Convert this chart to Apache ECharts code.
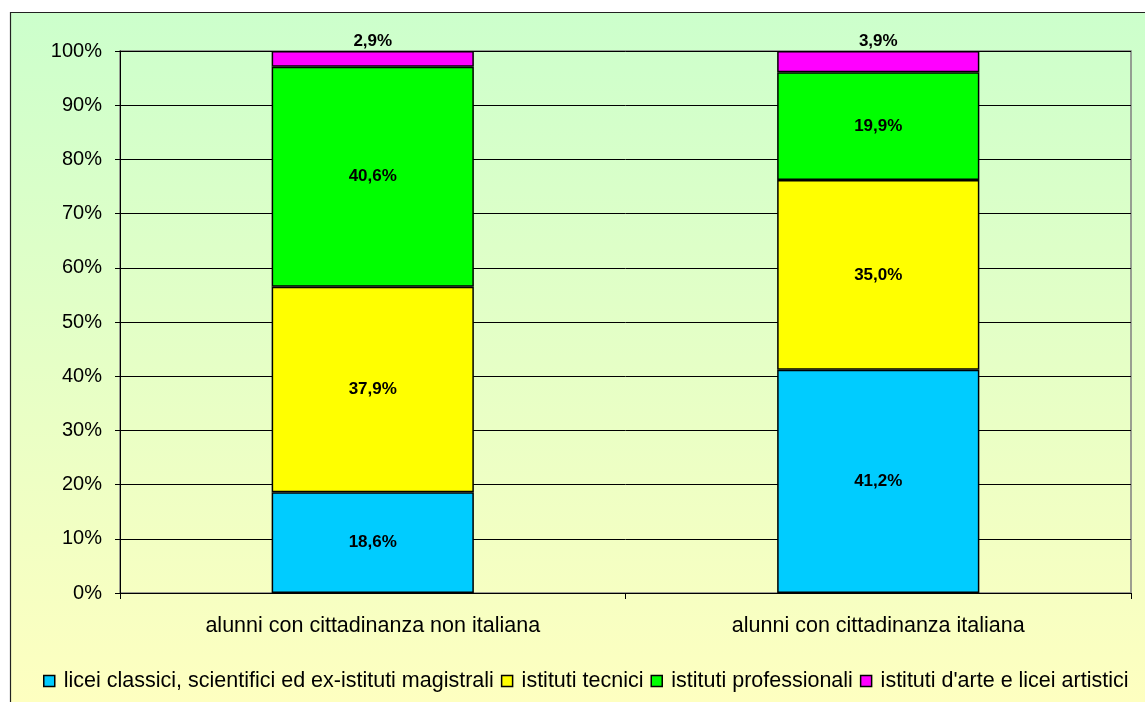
<!DOCTYPE html>
<html><head><meta charset="utf-8">
<script src="https://cdn.jsdelivr.net/npm/echarts@6/dist/echarts.min.js"></script>
<style>html,body{margin:0;padding:0;background:#fff}#c{width:1145px;height:702px}</style>
</head><body><div id="c"></div>
<script>
const categories = ['alunni con cittadinanza non italiana', 'alunni con cittadinanza italiana'];
const seriesNames = ['licei classici, scientifici ed ex-istituti magistrali', 'istituti tecnici', 'istituti professionali', "istituti d'arte e licei artistici"];
const licei = [18.6, 41.2];
const tecnici = [37.9, 35.0];
const professionali = [40.6, 19.9];
const arte = [2.9, 3.9];
const colors = ['#00CCFF', '#FFFF00', '#00FF00', '#FF00FF'];
const yTicks = {min: 0, max: 100, interval: 10};

const fmt = p => p.value.toFixed(1).replace('.', ',') + '%';
const data = [licei, tecnici, professionali, arte];
const chart = echarts.init(document.getElementById('c'));
chart.setOption({
  animation: false,
  textStyle: {fontFamily: 'Liberation Sans, Arial, sans-serif'},
  graphic: {elements: [{
    type: 'rect', z: -100, silent: true,
    shape: {x: 10.5, y: 12.5, width: 1145, height: 702},
    style: {
      fill: {type: 'linear', x: 0, y: 0, x2: 0, y2: 1, colorStops: [
        {offset: 0, color: '#CCFFCC'}, {offset: 1, color: '#FFFFC0'}]},
      stroke: '#222', lineWidth: 1.2
    }
  }]},
  grid: {left: 120, right: 14, top: 51, bottom: 109, show: true, borderColor: '#808080', borderWidth: 1.5, backgroundColor: 'transparent'},
  legend: {
    top: 670, left: 43, width: 1102, padding: 0, itemWidth: 11, itemHeight: 11, itemGap: 7,
    icon: 'rect',
    itemStyle: {borderColor: '#000', borderWidth: 1.5},
    textStyle: {fontSize: 21.5, color: '#000', padding: [0, 0, 0, 4]},
    data: seriesNames
  },
  xAxis: {
    type: 'category', data: categories,
    axisLine: {lineStyle: {color: '#000', width: 1}},
    axisTick: {show: true, length: 6, interval: 0, lineStyle: {color: '#000'}},
    axisLabel: {fontSize: 21.5, color: '#000', margin: 22, interval: 0}
  },
  yAxis: {
    type: 'value', min: yTicks.min, max: yTicks.max, interval: yTicks.interval,
    axisLine: {show: true, lineStyle: {color: '#000', width: 1}},
    axisTick: {show: true, length: 5, lineStyle: {color: '#000'}},
    axisLabel: {fontSize: 20, color: '#000', margin: 18, formatter: '{value}%'},
    splitLine: {lineStyle: {color: '#000', width: 1}}
  },
  series: data.map((d, i) => ({
    name: seriesNames[i], type: 'bar', stack: 'tot', data: d,
    barWidth: '40%',
    itemStyle: {color: colors[i], borderColor: '#000', borderWidth: 1.5},
    label: {
      show: true, position: i === 3 ? 'top' : 'inside', distance: 1,
      formatter: fmt, fontSize: 17, fontWeight: 'bold', color: '#000'
    }
  }))
});
</script></body></html>
